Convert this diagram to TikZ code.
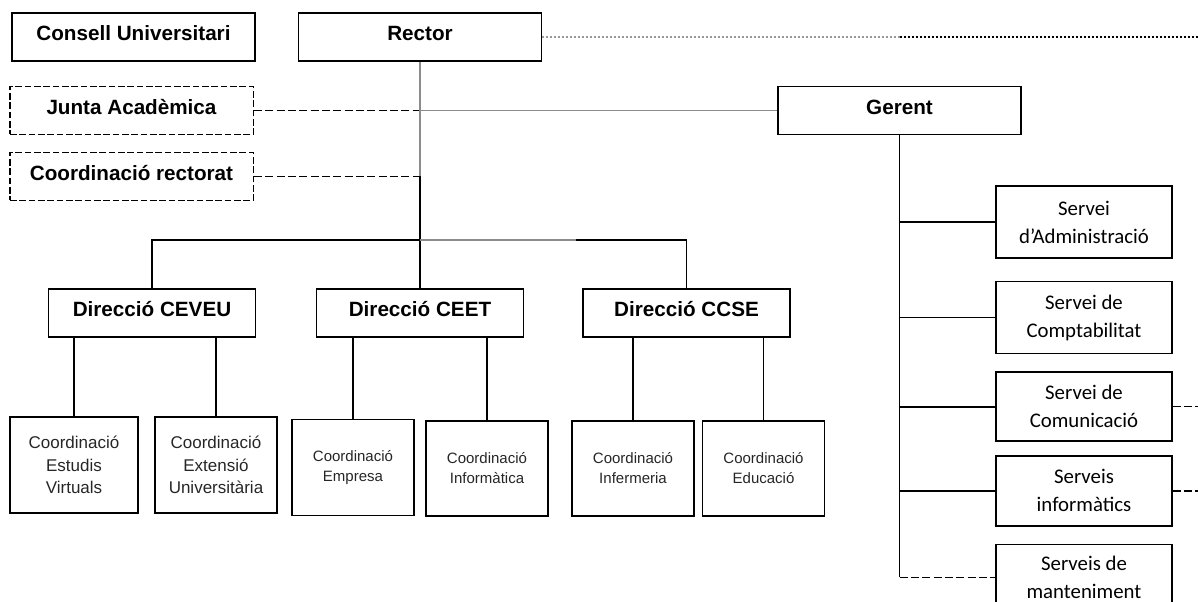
\documentclass[tikz,border=0pt]{standalone}
\usepackage{fontspec}
\setmainfont{Liberation Sans}
\newfontfamily\calibri{Carlito}
\usetikzlibrary{positioning}
\newcommand{\bigtxt}{\fontsize{15.5}{18}\selectfont\bfseries}
\newcommand{\coordtxt}{\fontsize{12.75}{16.9}\selectfont}
\newcommand{\smalltxt}{\fontsize{11.25}{15}\selectfont}
\newcommand{\servtxt}{\calibri\fontsize{15.6}{21}\selectfont}

\begin{document}
\begin{tikzpicture}[
	x=0.75pt,
	y=-0.75pt,
	plain box/.style={draw, line width=1.2pt, align=center, inner sep=0pt},
	head box/.style={plain box, font=\bigtxt, minimum width=182.5pt, minimum height=36pt, text height=11.2pt, text depth=5.3pt},
	aux box/.style={head box, line width=1pt, dash pattern=on 5pt off 2pt},
	dir box/.style={head box, minimum width=155.5pt},
	coord box/.style={plain box, font=\coordtxt, text=black!85, minimum width=91.5pt, minimum height=72pt},
	servei box/.style={plain box, font=\servtxt, minimum width=132pt, minimum height=54pt},
	link/.style={line width=1.2pt},
	gray link/.style={line width=1.2pt, draw=black!45},
	aux link/.style={line width=1.1pt, dash pattern=on 6pt off 2.5pt},
	dot link/.style={line width=1.1pt, dash pattern=on 1.5pt off 1.5pt}
]
\useasboundingbox (0,0) rectangle (1198,602);

\node[head box] (consell) at (133.5,37) {Consell Universitari};
\node[head box] (rector) at (420,37) {Rector};
\node[aux box] (junta) at (131.5,110.5) {Junta Acadèmica};
\node[aux box] (coordrect) at (131.5,176.5) {Coordinació rectorat};
\node[head box] (gerent) at (899.5,110.5) {Gerent};

\node[dir box] (ceveu) at (152,313) {Direcció CEVEU};
\node[dir box] (ceet) at (420,313) {Direcció CEET};
\node[dir box] (ccse) at (686.5,313) {Direcció CCSE};

\node[coord box, minimum width=96pt] (virtuals) at (74,465) {Coordinació\\Estudis\\Virtuals};
\node[coord box] (extensio) at (216,465) {Coordinació\\Extensió\\Universitària};
\node[coord box, font=\smalltxt] (empresa) at (353,467.5) {Coordinació\\Empresa};
\node[coord box, font=\smalltxt, minimum height=71pt] (informatica) at (487,468.5) {Coordinació\\Informàtica};
\node[coord box, font=\smalltxt, minimum height=71pt] (infermeria) at (633,468.5) {Coordinació\\Infermeria};
\node[coord box, font=\smalltxt, minimum height=71pt] (educacio) at (763.5,468.5) {Coordinació\\Educació};

\node[servei box] (admin) at (1084,222) {Servei\\d’Administració};
\node[servei box, below=16.5pt of admin] (compt) {Servei de\\Comptabilitat};
\node[servei box, minimum height=51.75pt, below=12.75pt of compt] (comun) {Servei de\\Comunicació};
\node[servei box, minimum height=52.5pt, below=9.75pt of comun] (informat) {Serveis\\informàtics};
\node[servei box, minimum height=49.5pt, below=12.75pt of informat] (manten) {Serveis de\\manteniment};

\coordinate (bar) at (rector.south |- 0,240);
\coordinate (jjunta) at (rector.south |- junta.east);
\coordinate (jcoord) at (rector.south |- coordrect.east);
\coordinate (midtop) at (rector.east -| gerent.south);
\coordinate (edgetop) at (rector.east -| 1198,0);
\coordinate (edgecom) at (comun.east -| 1198,0);
\coordinate (edgeinf) at (informat.east -| 1198,0);

% rector side
\draw[dot link, draw=black!40] (rector.east) -- (midtop);
\draw[dot link] (midtop) -- (edgetop);
\draw[aux link] (junta.east) -- (jjunta);
\draw[gray link] (jjunta) -- (gerent.west);
\draw[aux link] (coordrect.east) -- (jcoord);
\draw[gray link] (rector.south) -- (jcoord);
\draw[link] (jcoord) -- (bar);
\draw[link] (ceveu.north) |- (bar) -| (ccse.north);
\draw[link] (bar) -- (ceet.north);
\draw[gray link] (bar) -- ++(156,0);

\foreach \kid/\boss in {virtuals/ceveu, extensio/ceveu, empresa/ceet, informatica/ceet, infermeria/ccse, educacio/ccse}
	\draw[link] (\boss.south -| \kid.north) -- (\kid.north);

% gerent side
\foreach \srv in {admin, compt, comun, informat}
	\draw[link] (gerent.south) |- (\srv.west);
\draw[link] (gerent.south) -- (gerent.south |- manten.west);
\draw[aux link] (gerent.south |- manten.west) -- (manten.west);
\draw[aux link] (comun.east) -- (edgecom);
\draw[aux link] (informat.east) -- (edgeinf);

\end{tikzpicture}
\end{document}
